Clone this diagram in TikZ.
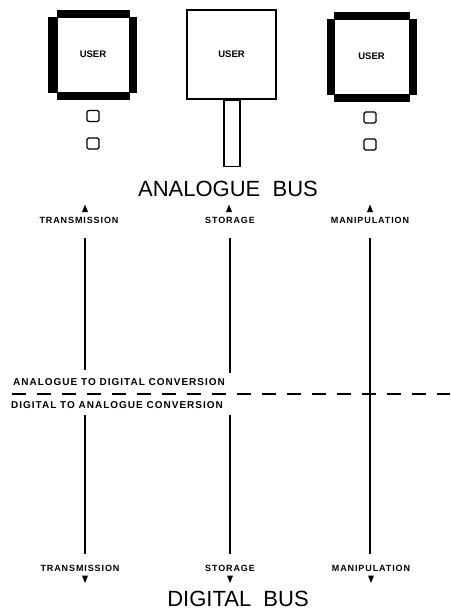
\documentclass[tikz,border=0pt]{standalone}
\usepackage{fontspec}
\setmainfont{Liberation Sans}
\newfontfamily\spacedfont[LetterSpace=10]{Liberation Sans}
\usepackage{tikz}
\usetikzlibrary{calc}
\tikzset{
    userbox/.style={draw, line width=1pt, inner sep=0pt,
        font=\bfseries\fontsize{9.5}{10}\selectfont},
    framebar/.style={line width=7pt, draw=black},
    port/.style={draw, line width=1.3pt, rounded corners=1.5pt,
        minimum width=12pt, minimum height=11pt, inner sep=0pt},
    busname/.style={font=\fontsize{22}{24}\selectfont, inner sep=0pt},
    funclabel/.style={font=\spacedfont\bfseries\fontsize{9}{10}\selectfont, inner sep=1pt},
    convlabel/.style={font=\spacedfont\bfseries\fontsize{10}{11}\selectfont, inner sep=1pt},
    busline/.style={line width=1.2pt, draw=black},
    convline/.style={line width=1.2pt, dash pattern=on 14pt off 11pt}
}
\begin{document}
\begin{tikzpicture}[x=1pt, y=-1pt]
  \useasboundingbox (0,0) rectangle (450,613);

  % Users (left and right ones have a heavy frame)
  \node[userbox, minimum width=72pt, minimum height=75pt] (userA) at (93,54.5) {USER};
  \draw[framebar] ([yshift=3.5pt]userA.north west) -- ([yshift=3.5pt]userA.north east);
  \draw[framebar] ([yshift=-3.5pt]userA.south west) -- ([yshift=-3.5pt]userA.south east);
  \draw[framebar, line width=9pt] ([xshift=-4.5pt]userA.north west) -- ([xshift=-4.5pt]userA.south west);
  \draw[framebar] ([xshift=3.5pt]userA.north east) -- ([xshift=3.5pt]userA.south east);

  \node[userbox, line width=1.5pt, minimum width=89pt, minimum height=89pt] (userB) at (231.5,54.5) {USER};
  \node[draw, line width=1.3pt, inner sep=0pt, minimum width=16pt, minimum height=66pt,
        anchor=north] (stem) at (userB.south -| 232,0) {};

  \node[userbox, minimum width=75pt, minimum height=75pt] (userC) at (371.5,56.5) {USER};
  \draw[framebar] ([yshift=3.5pt]userC.north west) -- ([yshift=3.5pt]userC.north east);
  \draw[framebar] ([yshift=-3.5pt]userC.south west) -- ([yshift=-3.5pt]userC.south east);
  \draw[framebar] ([xshift=-3.5pt]userC.north west) -- ([xshift=-3.5pt]userC.south west);
  \draw[framebar] ([xshift=3.5pt]userC.north east) -- ([xshift=3.5pt]userC.south east);

  % Small ports under the framed users
  \node[port] (portA1) at (93,116) {};
  \node[port] (portA2) at (93,143.5) {};
  \node[port] (portC1) at (370,117.5) {};
  \node[port] (portC2) at (370,144.5) {};

  % Bus titles
  \node[busname] (anabus) at (228,189) {ANALOGUE\ \ BUS};
  \node[busname] (digbus) at (238,598.5) {DIGITAL\ \ BUS};

  % Function labels at the analogue side
  \node[funclabel] (transA) at (79,220) {TRANSMISSION};
  \node[funclabel] (storA) at (230,220) {STORAGE};
  \node[funclabel] (manA) at (370,220) {MANIPULATION};

  % Function labels at the digital side
  \node[funclabel] (transD) at (80,568) {TRANSMISSION};
  \node[funclabel] (storD) at (230,568) {STORAGE};
  \node[funclabel] (manD) at (371,568) {MANIPULATION};

  % Conversion boundary
  \node[convlabel] (adc) at (119,382) {ANALOGUE TO DIGITAL CONVERSION};
  \node[convlabel] (dac) at (117,405) {DIGITAL TO ANALOGUE CONVERSION};
  \coordinate (convL) at (12,394);
  \coordinate (convR) at (450,394);
  \draw[convline] (convL) -- (convR);

  % Vertical paths
  \draw[busline] ($(transA.south -| 85,0)+(0,14)$) -- (85,370);
  \draw[busline] (85,415) -- ($(transD.north -| 85,0)+(0,-10)$);
  \draw[busline] ($(storA.south -| 230,0)+(0,14)$) -- (230,373);
  \draw[busline] (230,415) -- ($(storD.north -| 230,0)+(0,-10)$);
  \draw[busline] ($(manA.south -| 370,0)+(0,14)$) -- ($(manD.north -| 370,0)+(0,-10)$);

  % Arrow heads up to the analogue bus
  \fill (85,204.5) -- (82,212) -- (88,212) -- cycle;
  \fill (229,204.5) -- (226,212) -- (232,212) -- cycle;
  \fill (370,204.5) -- (367,212) -- (373,212) -- cycle;

  % Arrow heads down to the digital bus
  \fill (85,583) -- (82,575.5) -- (88,575.5) -- cycle;
  \fill (230,583) -- (227,575.5) -- (233,575.5) -- cycle;
  \fill (371,583) -- (368,575.5) -- (374,575.5) -- cycle;

\end{tikzpicture}
\end{document}
